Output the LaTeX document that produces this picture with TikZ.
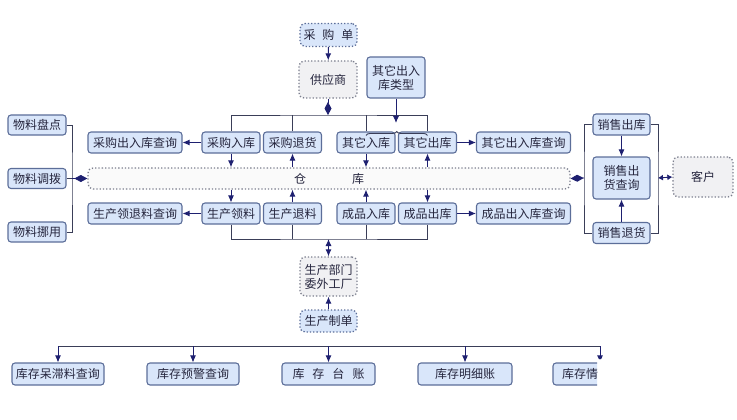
\documentclass[tikz,border=0pt]{standalone}
\usepackage{fontspec}
\setmainfont{Noto Sans CJK SC}
\usetikzlibrary{arrows.meta,decorations.pathreplacing}

\definecolor{boxfill}{HTML}{D9E6FA}
\definecolor{boxline}{HTML}{5C6E99}
\definecolor{dotline}{HTML}{7C7F8E}
\definecolor{dotfill}{HTML}{F1F1F3}
\definecolor{linec}{HTML}{3A3E58}
\definecolor{arrc}{HTML}{1E2070}
\definecolor{txt}{HTML}{26263E}

\tikzset{
  box/.style={draw=boxline, fill=boxfill, line width=1.1pt, rounded corners=3pt,
    inner sep=1pt, text=txt, minimum height=21pt},
  sbox/.style={box, minimum width=58pt},
  qbox/.style={box, minimum width=94pt},
  dbox/.style={draw=dotline, fill=dotfill, dotted, line width=1.3pt,
    rounded corners=5pt, inner sep=1pt, text=txt},
  bdbox/.style={dbox, draw=boxline, fill=boxfill},
  link/.style={draw=linec, line width=0.9pt},
  arr/.style={link, draw=arrc, -{Latex[length=7pt,width=6pt]}},
  dia/.style={link, draw=arrc, {Diamond[length=13pt,width=7pt]}-},
}

\begin{document}
\begin{tikzpicture}[x=1pt, y=-1pt, font=\fontsize{12}{14}\selectfont]
\useasboundingbox (0,0) rectangle (737,420);

% ── Arriba: proveedor y tipos de entrada/salida ───────────────
\node[bdbox, minimum width=57pt, minimum height=23pt] (cgd) at (328.5,35)
    {采\hspace{7pt}购\hspace{7pt}单};
\node[dbox, minimum width=58pt, minimum height=37pt] (gys) at (328,79.5) {供应商};
\node[box, minimum width=58pt, minimum height=41pt, align=center] (qtlx)
    at (396,77.5) {其它出入\\库类型};
\draw[arr] (cgd) -- (gys);

% bus superior
\coordinate (tb) at (328,115);
\coordinate (brtip) at (396,123);
\draw[link, -{Diamond[length=13pt,width=7pt]}, arrc] (gys.south) -- (tb);

% ── Fila 1: compras / otros ────────────────────────────────────
\node[qbox] (cxcx) at (135,142.5)   {采购出入库查询};
\node[sbox] (cgrk) at (231,142.5)   {采购入库};
\node[sbox] (cgth) at (292.5,142.5) {采购退货};
\node[sbox] (qtrk) at (366,142.5)   {其它入库};
\node[sbox] (qtck) at (427.5,142.5) {其它出库};
\node[qbox] (qtcx) at (523.5,142.5) {其它出入库查询};

\draw[link] (cgrk.north) |- (tb) -| (qtck.north);
\draw[link] (cgth.north) -- (cgth.north |- tb);
\draw[link] (qtrk.north) -- (qtrk.north |- tb);
\draw[link, decorate, decoration={brace, amplitude=4pt}]
    ([yshift=-4pt]qtrk.north) -- ([yshift=-4pt]qtck.north);
\draw[arr] (qtlx.south) -- (brtip);

\draw[arr] (cgrk) -- (cxcx);
\draw[arr] (qtck) -- (qtcx);

% ── Almacén ───────────────────────────────────────────────────
\node[dbox, fill=gray!4, minimum width=482pt, minimum height=21pt] (ck)
    at (329,178.5) {仓\hspace{46pt}库};

\draw[arr] (cgrk.south) -- (cgrk.south |- ck.north);
\draw[arr] (cgth.south |- ck.north) -- (cgth.south);
\draw[arr] (qtrk.south) -- (qtrk.south |- ck.north);
\draw[arr] (qtck.south |- ck.north) -- (qtck.south);

% ── Fila 2: producción / producto terminado ───────────────────
\node[qbox] (sccx) at (135,213.5)   {生产领退料查询};
\node[sbox] (scll) at (231,213.5)   {生产领料};
\node[sbox] (sctl) at (292.5,213.5) {生产退料};
\node[sbox] (cprk) at (366,213.5)   {成品入库};
\node[sbox] (cpck) at (427.5,213.5) {成品出库};
\node[qbox] (cpcx) at (523.5,213.5) {成品出入库查询};

\draw[arr] (scll.north |- ck.south) -- (scll.north);
\draw[arr] (sctl.north) -- (sctl.north |- ck.south);
\draw[arr] (cprk.north) -- (cprk.north |- ck.south);
\draw[arr] (cpck.north |- ck.south) -- (cpck.north);
\draw[arr] (scll) -- (sccx);
\draw[arr] (cpck) -- (cpcx);

% bus inferior
\coordinate (bb) at (328.5,239);
\draw[link] (scll.south) |- (bb) -| (cpck.south);
\draw[link] (sctl.south) -- (sctl.south |- bb);
\draw[link] (cprk.south) -- (cprk.south |- bb);

% ── Producción ────────────────────────────────────────────────
\node[dbox, minimum width=57pt, minimum height=39pt, align=center] (scbm)
    at (328.5,276.5) {生产部门\\委外工厂};
\node[bdbox, minimum width=57pt, minimum height=22pt] (sczd) at (328.5,321)
    {生产制单};
\draw[arr, {Latex[length=7pt,width=6pt]}-{Latex[length=7pt,width=6pt]}] (bb) -- (scbm);
\draw[arr] (sczd) -- (scbm);

% ── Izquierda: material ───────────────────────────────────────
\node[box, minimum width=58pt, minimum height=20pt] (wlpd) at (37,125)   {物料盘点};
\node[box, minimum width=58pt, minimum height=20pt] (wldb) at (37,178.5) {物料调拨};
\node[box, minimum width=58pt, minimum height=20pt] (wlny) at (37,232)   {物料挪用};
\coordinate (brl) at (72,178.5);
\draw[link] (wlpd.east) -| (brl) |- (wlny.east);
\draw[link] (wldb.east) -- (brl);
\draw[dia] (ck.west) -- (brl);

% ── Derecha: ventas y cliente ─────────────────────────────────
\node[box, minimum width=57pt] (xsck) at (621.5,124.5) {销售出库};
\node[box, minimum width=57pt, minimum height=42pt, align=center] (xscx)
    at (621.5,178) {销售出\\货查询};
\node[box, minimum width=57pt] (xsth) at (621.5,233) {销售退货};
\node[dbox, minimum width=60pt, minimum height=40pt] (kh) at (703,177) {客户};
\coordinate (brr1) at (584,178);
\coordinate (brr2) at (658,178);
\draw[link] (xsck.west) -| (brr1) |- (xsth.west);
\draw[link] (xsck.east) -| (brr2) |- (xsth.east);
\draw[dia] (ck.east) -- (brr1);
\draw[arr, {Latex[length=5pt,width=6pt]}-{Latex[length=5pt,width=6pt]}] (brr2) -- (kh.west);
\draw[arr] (xsck) -- (xscx);
\draw[arr] (xsth) -- (xscx);

% ── Abajo: consultas de inventario ────────────────────────────
\coordinate (lb1) at (58,346);
\coordinate (lb2) at (600,346);
\draw[link] (lb1) -- (lb2);
\node[box, minimum width=92pt, minimum height=22pt] (kc1) at (58,374)    {库存呆滞料查询};
\node[box, minimum width=92pt, minimum height=22pt] (kc2) at (193,374)   {库存预警查询};
\node[box, minimum width=93pt, minimum height=22pt] (kc3) at (328.5,374)
    {库\hspace{8pt}存\hspace{8pt}台\hspace{8pt}账};
\node[box, minimum width=94pt, minimum height=22pt] (kc4) at (465,374)   {库存明细账};
\foreach \k in {kc1,kc2,kc3,kc4}
  \draw[arr] (lb1 -| \k.north) -- (\k.north);
% recorte del último cuadro
\begin{scope}
  \clip (0,0) -- (737,0) -- (737,359) -- (597,359) -- (597,420) -- (0,420) -- cycle;
  \node[box, minimum width=94pt, minimum height=22pt] (kc5) at (600,374)
      {\makebox[76pt][l]{库存情}};
  \draw[arr] (lb2) -- (kc5.north);
\end{scope}

\end{tikzpicture}
\end{document}
